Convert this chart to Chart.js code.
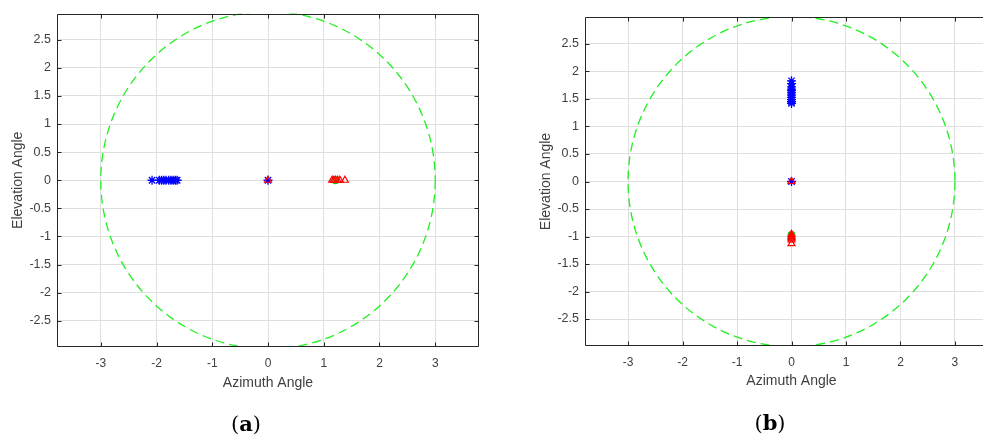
<!DOCTYPE html>
<html>
<head>
<meta charset="utf-8">
<script src="https://cdn.jsdelivr.net/npm/chart.js@4.4.0/dist/chart.umd.min.js"></script>
<style>
  html, body { margin: 0; padding: 0; background: #fff; overflow: hidden; width: 983px; height: 436px; }
  canvas { position: absolute; top: 0; }
  .caption { position: absolute; font-family: "DejaVu Serif", "Liberation Serif", serif; font-size: 21px; color: #000; transform: translate(-50%, -50%); white-space: nowrap; }
</style>
</head>
<body>
<canvas id="chartA" width="500" height="436" style="left:0px"></canvas>
<canvas id="chartB" width="500" height="436" style="left:520px"></canvas>
<div class="caption" style="left:246px; top:423px">(<b>a</b>)</div>
<div class="caption" style="left:770px; top:422px">(<b>b</b>)</div>
<script>
// tick labels
const xTicks = [-3, -2, -1, 0, 1, 2, 3];
const yTicks = [-2.5, -2, -1.5, -1, -0.5, 0, 0.5, 1, 1.5, 2, 2.5];
const circleRadius = 3;

// panel (a)
const aStarX = [-2.08, -1.95, -1.91, -1.87, -1.83, -1.78, -1.74, -1.70, -1.66, -1.63, 0];
const aStarY = [0, 0, 0, 0, 0, 0, 0, 0, 0, 0, 0];
const aMeanX = [-1.80];
const aMeanY = [0];
const aTriX = [0, 1.15, 1.18, 1.21, 1.25, 1.29, 1.38];
const aTriY = [0, 0, 0, 0, 0, 0, 0];
const aCircX = [1.21];
const aCircY = [0];

// panel (b)
const bStarX = [0, 0, 0, 0, 0, 0, 0, 0, 0, 0, 0, 0];
const bStarY = [1.83, 1.78, 1.72, 1.68, 1.65, 1.61, 1.57, 1.53, 1.49, 1.45, 1.42, 0];
const bMeanX = [0];
const bMeanY = [1.62];
const bTriX = [0, 0, 0, 0, 0, 0, 0];
const bTriY = [0, -0.96, -0.99, -1.01, -1.03, -1.06, -1.13];
const bCircX = [0];
const bCircY = [-0.97];

function puntos(xs, ys) {
    return xs.map(function (x, i) { return { x: x, y: ys[i] }; });
}

// circulo verde, caja y marcas de los ejes
const cajaPlugin = {
    id: 'caja',
    beforeDatasetsDraw: function (chart) {
        const ctx = chart.ctx;
        const area = chart.chartArea;
        const sx = chart.scales.x, sy = chart.scales.y;
        const cx = sx.getPixelForValue(0), cy = sy.getPixelForValue(0);
        const rx = sx.getPixelForValue(circleRadius) - cx;
        const ry = cy - sy.getPixelForValue(circleRadius);
        ctx.save();
        ctx.beginPath();
        ctx.rect(area.left, area.top, area.right - area.left, area.bottom - area.top);
        ctx.clip();
        ctx.beginPath();
        ctx.setLineDash([9, 5]);
        ctx.strokeStyle = '#1ff01f';
        ctx.lineWidth = 1.3;
        ctx.ellipse(cx, cy, rx, ry, 0, 0, Math.PI * 2);
        ctx.stroke();
        ctx.restore();
    },
    afterDraw: function (chart) {
        const ctx = chart.ctx;
        const a = chart.chartArea;
        const sx = chart.scales.x, sy = chart.scales.y;
        const L = Math.round(a.left) + 0.5, R = Math.round(a.right) - 0.5;
        const T = Math.round(a.top) + 0.5, B = Math.round(a.bottom) - 0.5;
        ctx.save();
        ctx.strokeStyle = '#262626';
        ctx.lineWidth = 1;
        ctx.beginPath();
        ctx.rect(L, T, R - L, B - T);
        xTicks.forEach(function (v) {
            const px = Math.round(sx.getPixelForValue(v)) + 0.5;
            ctx.moveTo(px, B); ctx.lineTo(px, B - 4);
            ctx.moveTo(px, T); ctx.lineTo(px, T + 4);
        });
        yTicks.forEach(function (v) {
            const py = Math.round(sy.getPixelForValue(v)) + 0.5;
            ctx.moveTo(L, py); ctx.lineTo(L + 4, py);
            ctx.moveTo(R, py); ctx.lineTo(R - 4, py);
        });
        ctx.stroke();
        ctx.restore();
    }
};

function crearGrafico(id, datos, cfg) {
    const ctx = document.getElementById(id).getContext('2d');
    return new Chart(ctx, {
        type: 'scatter',
        data: {
            datasets: [
                {
                    data: puntos(datos.triX, datos.triY),
                    pointStyle: 'triangle', pointRadius: 4,
                    borderColor: '#ff0000', backgroundColor: 'rgba(0,0,0,0)', borderWidth: 1.2
                },
                {
                    data: puntos(datos.starX, datos.starY),
                    pointStyle: 'star', pointRadius: 4.5,
                    borderColor: '#0000ff', backgroundColor: '#0000ff', borderWidth: 1.3
                },
                {
                    data: puntos(datos.meanX, datos.meanY),
                    pointStyle: 'crossRot', pointRadius: 3,
                    borderColor: '#000000', borderWidth: 1
                },
                {
                    data: puntos(datos.circX, datos.circY),
                    pointStyle: 'circle', pointRadius: 3.3,
                    borderColor: '#00d000', backgroundColor: 'rgba(0,0,0,0)', borderWidth: 1.2
                }
            ]
        },
        options: {
            responsive: false,
            animation: false,
            events: [],
            layout: { padding: { left: 0, top: cfg.top, right: cfg.right, bottom: 0 } },
            plugins: { legend: { display: false }, tooltip: { enabled: false } },
            scales: {
                x: {
                    type: 'linear',
                    min: -cfg.xLim, max: cfg.xLim,
                    afterBuildTicks: function (s) { s.ticks = xTicks.map(function (v) { return { value: v }; }); },
                    afterFit: function (s) { s.height = cfg.xHeight; },
                    grid: { color: '#dedede', lineWidth: 1, drawTicks: false },
                    border: { display: false },
                    ticks: {
                        autoSkip: false, maxRotation: 0, padding: 9,
                        color: '#404040',
                        font: { family: 'Liberation Sans, Arial, sans-serif', size: 12 },
                        callback: function (v) { return String(v); }
                    },
                    title: {
                        display: true, text: 'Azimuth Angle', color: '#404040',
                        font: { family: 'Liberation Sans, Arial, sans-serif', size: 14 },
                        padding: { top: 0, bottom: cfg.xTitlePad }
                    }
                },
                y: {
                    type: 'linear',
                    min: -cfg.yLim, max: cfg.yLim,
                    afterBuildTicks: function (s) { s.ticks = yTicks.map(function (v) { return { value: v }; }); },
                    afterFit: function (s) { s.width = cfg.yWidth; },
                    grid: { color: '#dedede', lineWidth: 1, drawTicks: false },
                    border: { display: false },
                    ticks: {
                        autoSkip: false, padding: 6,
                        color: '#404040',
                        font: { family: 'Liberation Sans, Arial, sans-serif', size: 12.5 },
                        callback: function (v) { return String(v); }
                    },
                    title: {
                        display: true, text: 'Elevation Angle', color: '#404040',
                        font: { family: 'Liberation Sans, Arial, sans-serif', size: 14 },
                        padding: { top: cfg.yTitlePad, bottom: 0 }
                    }
                }
            }
        },
        plugins: [cajaPlugin]
    });
}

crearGrafico('chartA', {
    starX: aStarX, starY: aStarY, meanX: aMeanX, meanY: aMeanY,
    triX: aTriX, triY: aTriY, circX: aCircX, circY: aCircY
}, { top: 13, right: 21, xHeight: 89, yWidth: 57, xLim: 3.785, yLim: 2.965, xTitlePad: 44, yTitlePad: 10 });

crearGrafico('chartB', {
    starX: bStarX, starY: bStarY, meanX: bMeanX, meanY: bMeanY,
    triX: bTriX, triY: bTriY, circX: bCircX, circY: bCircY
}, { top: 17, right: 22, xHeight: 90, yWidth: 65, xLim: 3.79, yLim: 2.99, xTitlePad: 46, yTitlePad: 18 });
</script>
</body>
</html>
